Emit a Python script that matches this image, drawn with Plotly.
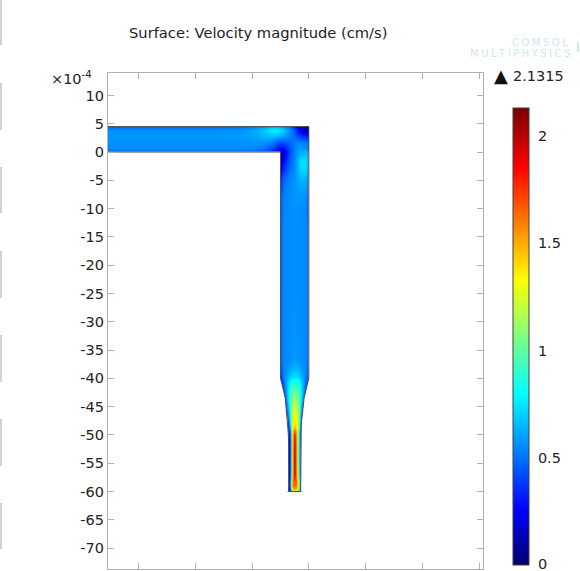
import plotly.graph_objects as go

W, H = 580, 571
VMAX = 2.1315

y_ticks = [10, 5, 0, -5, -10, -15, -20, -25, -30, -35, -40, -45, -50, -55, -60, -65, -70]
y_labels = ["10", "5", "0", "-5", "-10", "-15", "-20", "-25", "-30", "-35", "-40", "-45", "-50", "-55", "-60", "-65", "-70"]
x_ticks = [-30, -20, -10, 0, 10, 20, 30]
bar_ticks = [0.5, 1, 1.5, 2]
bar_labels = ["0.5", "1", "1.5", "2"]

# horizontal arm
arm_x = [-35.4, -20, -13, -10, -8, -7, -6, -5, -4, -3, -2, -1, 0]
arm_y = [0, 0.2, 1.2, 2.2, 3.2, 4.3, 4.5]
arm_v = [
    [.44, .44, .44, .42, .36, .30, .22, .18, .36, .50, .56, .48],
    [.56, .56, .56, .54, .49, .42, .32, .27, .42, .54, .60, .56],
    [.57, .57, .57, .57, .56, .52, .44, .42, .47, .53, .55, .52],
    [.58, .58, .59, .62, .65, .65, .62, .58, .53, .47, .40, .35],
    [.57, .57, .59, .65, .72, .78, .78, .70, .58, .44, .24, .12],
    [.46, .46, .48, .52, .58, .62, .62, .58, .46, .30, .14, .05],
]

# corner, below the arm
corner_x = [-5, -4.75, -4, -3, -2, -1, -.25, 0]
corner_y = [-12, -9, -7, -5, -3.5, -2, -1, 0.3]
corner_v = [
    [.44, .55, .56, .57, .56, .54, .44],
    [.44, .54, .56, .58, .58, .56, .44],
    [.38, .51, .55, .58, .62, .61, .45],
    [.30, .46, .53, .57, .67, .66, .47],
    [.18, .36, .48, .56, .73, .73, .50],
    [.12, .28, .44, .55, .75, .75, .52],
    [.09, .22, .40, .54, .64, .67, .50],
]

# stem and nozzle
stem_x = [-5, -4.75, -4.1, -3.6, -3.3, -3, -2.7, -2.3, -2, -1.7, -1.4, -.9, -.25, 0]
stem_y = [-60, -59.5, -58.5, -57.5, -56, -53, -50.5, -49.3, -48.5, -47.5, -46, -44.5,
          -43, -41.5, -40.5, -39.5, -38, -36, -11.8]
stem_v = [
    [0, 0, 0, .30, .85, 1.25, 1.40, 1.25, .85, .30, 0, 0, 0],
    [0, 0, 0, .38, 1.10, 1.60, 1.65, 1.60, 1.10, .38, 0, 0, 0],
    [0, 0, 0, .38, 1.10, 1.62, 1.72, 1.62, 1.10, .38, 0, 0, 0],
    [0, 0, 0, .32, .88, 1.50, 1.95, 1.50, .88, .32, 0, 0, 0],
    [0, 0, 0, .32, .85, 1.48, 2.00, 1.48, .85, .32, 0, 0, 0],
    [0, 0, 0, .32, .85, 1.48, 1.95, 1.48, .85, .32, 0, 0, 0],
    [0, 0, .08, .36, .90, 1.45, 1.85, 1.45, .90, .36, .08, 0, 0],
    [0, 0, .12, .50, 1.02, 1.36, 1.55, 1.36, 1.02, .50, .12, 0, 0],
    [0, 0, .22, .65, 1.08, 1.33, 1.40, 1.33, 1.08, .65, .22, 0, 0],
    [0, .05, .40, .78, 1.08, 1.26, 1.32, 1.26, 1.08, .78, .40, .05, 0],
    [0, .15, .55, .88, 1.05, 1.18, 1.24, 1.18, 1.05, .88, .55, .15, 0],
    [0, .30, .66, .90, 1.02, 1.08, 1.12, 1.08, 1.02, .90, .66, .30, 0],
    [.08, .42, .70, .86, .93, .98, 1.02, .98, .93, .86, .70, .42, .08],
    [.18, .50, .70, .80, .84, .87, .89, .87, .84, .80, .70, .50, .18],
    [.32, .54, .64, .72, .75, .77, .78, .77, .75, .72, .64, .54, .32],
    [.40, .55, .60, .63, .65, .67, .68, .67, .65, .63, .60, .55, .40],
    [.44, .55, .56, .57, .58, .59, .60, .59, .58, .57, .56, .55, .44],
    [.46, .55, .56, .56, .56, .56, .57, .56, .56, .56, .56, .55, .46],
]

# geometry outline
nozzle_y = [-40, -40.5, -41.2, -43.5, -45.3, -47.9, -50, -52, -60]
nozzle_left = [-5, -4.85, -4.69, -4.16, -3.98, -3.68, -3.60, -3.57, -3.56]
nozzle_right = [0, -.15, -.31, -.84, -1.02, -1.32, -1.40, -1.43, -1.44]
outline_x = [-35.4, -5] + nozzle_left + nozzle_right[::-1] + [0, -35.4]
outline_y = [0, 0] + nozzle_y + nozzle_y[::-1] + [4.5, 4.5]

rainbow = [
    [0, "rgb(0,0,110)"],
    [0.26 / VMAX, "rgb(0,0,255)"],
    [0.80 / VMAX, "rgb(0,255,255)"],
    [1.33 / VMAX, "rgb(255,255,0)"],
    [1.855 / VMAX, "rgb(255,0,0)"],
    [1, "rgb(120,0,0)"],
]

FONT = "DejaVu Sans"
TXT = 14.5
BAR_TOP, BAR_BOTTOM, BAR_LEFT, BAR_W = 108, 565, 513, 16
fig = go.Figure()
for xs, ys, zs in [(arm_x, arm_y, arm_v), (corner_x, corner_y, corner_v), (stem_x, stem_y, stem_v)]:
    fig.add_trace(go.Heatmap(x=xs, y=ys, z=zs, coloraxis="coloraxis", zsmooth="best",
                             hoverinfo="skip"))

# white areas on both sides of the nozzle
fig.add_trace(go.Scatter(x=nozzle_left + [-5.6, -5.6], y=nozzle_y + [-60.4, -40],
                         fill="toself", fillcolor="white", mode="none", hoverinfo="skip"))
fig.add_trace(go.Scatter(x=nozzle_right + [0.6, 0.6], y=nozzle_y + [-60.4, -40],
                         fill="toself", fillcolor="white", mode="none", hoverinfo="skip"))
fig.add_trace(go.Scatter(x=outline_x, y=outline_y, mode="lines",
                         line=dict(color="#505050", width=1), hoverinfo="skip"))

axis_gray = "#b0b0b0"
strips = [(0, 45), (83, 130), (167, 213), (251, 298), (335, 382), (419, 466), (503, 549)]
shapes = [dict(type="line", xref="paper", yref="paper", x0=1 / W, x1=1 / W, y0=1 - a / H, y1=1 - b / H,
               line=dict(color="#c4c4c4", width=1.5)) for a, b in strips]
shapes.append(dict(type="line", xref="paper", yref="paper", x0=578 / W, x1=578 / W, y0=1 - 42 / H, y1=1 - 52 / H,
                   line=dict(color="#cfe6f2", width=2)))
# colour-bar ticks on both edges of the bar
for t in bar_ticks:
    yp = BAR_BOTTOM - 1 - (BAR_BOTTOM - 1 - BAR_TOP) * t / VMAX
    for x0, x1 in [(BAR_LEFT, BAR_LEFT + 4), (BAR_LEFT + BAR_W - 4, BAR_LEFT + BAR_W)]:
        shapes.append(dict(type="line", xref="paper", yref="paper", x0=x0 / W, x1=x1 / W,
                           y0=1 - yp / H, y1=1 - yp / H, line=dict(color="#222222", width=1)))

SP = "\u2005"
fig.update_layout(
    width=W, height=H, margin=dict(l=0, r=0, t=0, b=0, autoexpand=False), autosize=False,
    paper_bgcolor="white", plot_bgcolor="white", showlegend=False,
    font=dict(family=FONT, size=TXT, color="#222222"),
    title=dict(text="Surface: Velocity magnitude (cm/s)", x=129 / W, xanchor="left", xref="paper",
               y=1 - 33 / H, yanchor="middle", yref="paper", font=dict(family=FONT, size=14.7, color="#222222")),
    xaxis=dict(domain=[108 / W, 483 / W], range=[-35.4, 30.7], tickvals=x_ticks, showticklabels=False,
               ticks="inside", ticklen=6, tickcolor=axis_gray, showline=True, linecolor=axis_gray, linewidth=1.2,
               mirror="ticks", showgrid=False, zeroline=False),
    yaxis=dict(domain=[2 / H, 1 - 73 / H], range=[-73.7, 13.97], tickvals=y_ticks, ticktext=y_labels,
               ticks="inside", ticklen=6, tickcolor=axis_gray, showline=True, linecolor=axis_gray, linewidth=1.2,
               mirror="ticks", showgrid=False, zeroline=False, tickfont=dict(family=FONT, size=TXT)),
    coloraxis=dict(cmin=0, cmax=VMAX, colorscale=rainbow, colorbar=dict(
        x=BAR_LEFT / W, xanchor="left", xref="container", xpad=0, y=1 - BAR_TOP / H, yanchor="top",
        yref="container", ypad=0, lenmode="pixels", len=BAR_BOTTOM - BAR_TOP, thicknessmode="pixels", thickness=BAR_W,
        tickvals=bar_ticks, ticktext=bar_labels, ticks="outside", ticklen=6, tickcolor="rgba(0,0,0,0)",
        outlinecolor="#404040", outlinewidth=1, tickfont=dict(family=FONT, size=TXT, color="#222222"))),
    annotations=[
        dict(text="×10<sup>-4</sup>", xref="paper", yref="paper", x=49 / W, y=1 - 78 / H, xanchor="left",
             yanchor="middle", showarrow=False, font=dict(family=FONT, size=TXT, color="#222222")),
        dict(text="▲", xref="paper", yref="paper", x=492 / W, y=1 - 75 / H, xanchor="left",
             yanchor="middle", showarrow=False, font=dict(family=FONT, size=18, color="#111111")),
        dict(text="2.1315", xref="paper", yref="paper", x=511 / W, y=1 - 76 / H, xanchor="left",
             yanchor="middle", showarrow=False, font=dict(family=FONT, size=TXT, color="#222222")),
        dict(text="0", xref="paper", yref="paper", x=536 / W, y=1 - 564 / H, xanchor="left",
             yanchor="middle", showarrow=False, font=dict(family=FONT, size=TXT, color="#222222")),
        dict(text=SP.join("COMSOL"), xref="paper", yref="paper", x=570 / W, y=1 - 43 / H, xanchor="right",
             yanchor="middle", showarrow=False, font=dict(family=FONT, size=10, color="#cfe6f2")),
        dict(text=SP.join("MULTIPHYSICS"), xref="paper", yref="paper", x=572 / W, y=1 - 53.5 / H, xanchor="right",
             yanchor="middle", showarrow=False, font=dict(family=FONT, size=10, color="#cfe6f2")),
    ],
    shapes=shapes,
)
fig.write_html("out.html", config=dict(displayModeBar=False),
               post_script="document.body.style.margin='0';document.documentElement.style.overflow='hidden';")
